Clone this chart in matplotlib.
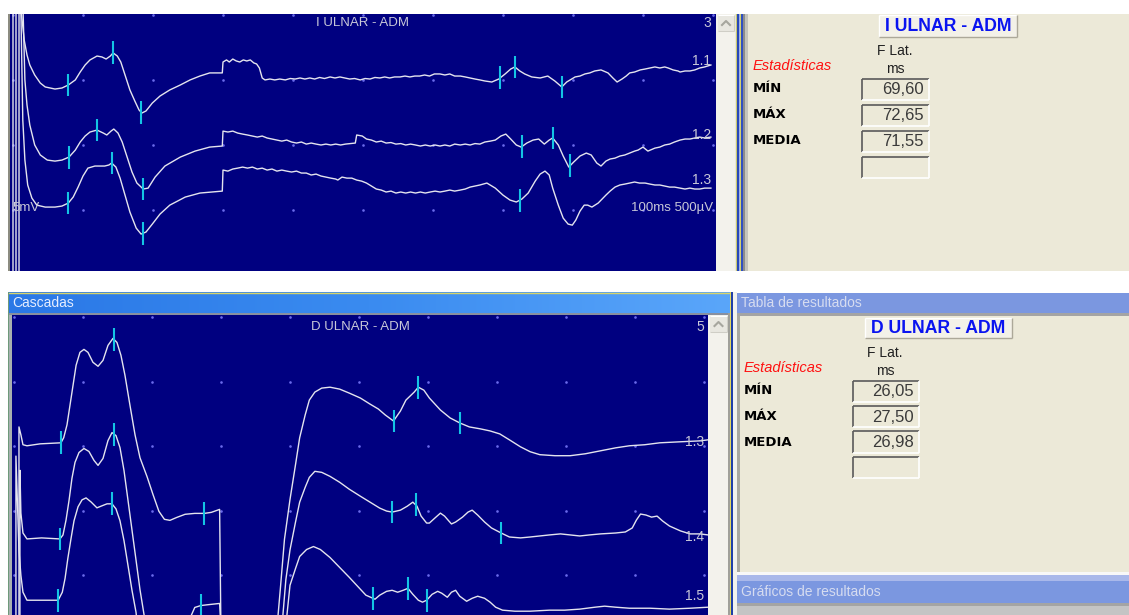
import numpy as np
import matplotlib
matplotlib.use("Agg")
import matplotlib.pyplot as plt
from matplotlib.patches import Rectangle
from matplotlib.colors import LinearSegmentedColormap

plt.rcParams['font.family'] = ['Liberation Sans', 'DejaVu Sans']

# ---------------------------------------------------------------- data
# I ULNAR - ADM : 10 ms/div, 500 uV/div, traces in (ms, uV) relative to own baseline
i_ulnar_names = ["1.1", "1.2", "1.3"]
i_ulnar_offsets_uv = [-485, -986, -1348]
i_ulnar_11 = [(0.43, -1600), (0.43, 700), (1.0, 600), (1.6, 293), (2.0, 177), (2.4, 100), (3.1, 23), (3.9, -39),
              (4.6, -69), (6.0, -85), (7.0, -77), (7.9, -54), (8.9, -15), (9.6, 46), (10.3, 100), (11.0, 139),
              (12.0, 169), (12.7, 162), (13.3, 146), (13.9, 169), (14.3, 193), (14.9, 169), (15.4, 123),
              (16.0, 23), (16.7, -92), (17.4, -177), (18.0, -246), (18.4, -270), (19.0, -254), (19.9, -193),
              (21.0, -139), (22.4, -92), (23.9, -54), (25.3, -15), (26.7, 15), (28.1, 39), (29.9, 39),
              (30.0, 123), (30.5, 139), (30.9, 123), (31.4, 146), (31.9, 131), (32.4, 123), (32.9, 139),
              (33.4, 131), (33.9, 139), (34.4, 116), (34.8, 108), (35.2, 77), (35.6, 0), (36.0, -15),
              (36.7, -8), (37.4, -15), (38.1, -8), (38.9, -15), (39.6, -4), (40.3, -8), (41.0, 0), (41.7, -8),
              (42.4, 0), (43.1, -8), (43.8, 4), (44.5, -4), (45.3, 8), (46.0, 0), (46.7, 8), (47.4, 0),
              (48.1, -8), (48.8, -4), (49.6, -15), (50.3, -4), (51.0, -8), (51.7, 4), (52.4, 0), (53.1, 8),
              (53.8, 0), (54.5, 8), (55.3, 8), (56.0, 15), (56.7, 8), (57.4, 15), (58.1, 15), (58.8, 23),
              (59.5, 15), (60.2, 31), (61.0, 31), (61.7, 23), (62.4, 31), (63.1, 15), (63.9, 15), (64.6, 8),
              (65.3, 0), (66.0, -8), (66.7, -15), (67.4, -23), (68.4, -31), (69.4, -8), (70.3, 31), (71.1, 69),
              (71.7, 85), (72.4, 54), (73.1, 31), (74.1, 8), (75.3, 0), (76.4, 15), (77.4, -23), (78.4, -69),
              (79.1, -31), (80.3, 8), (81.0, 15), (81.7, 31), (82.4, 39), (83.1, 54), (84.0, 62), (85.0, 39),
              (85.7, 0), (86.3, -31), (87.0, -8), (87.6, 15), (88.1, 39), (88.8, 46), (89.6, 62), (90.3, 69),
              (91.0, 77), (91.7, 85), (92.4, 77), (93.1, 85), (93.6, 77), (94.3, 62), (95.0, 54), (95.3, 46),
              (96.0, 54), (96.7, 54), (97.4, 62), (98.1, 77), (98.8, 85), (99.7, 100)]
i_ulnar_12 = [(0.0, -1600), (0.0, 1200), (1.4, 1101), (1.7, 485), (2.0, 293), (2.4, 139), (3.1, -15), (3.9, -92),
              (4.9, -131), (6.0, -139), (7.0, -131), (8.0, -108), (8.9, -54), (9.6, 8), (10.3, 54), (11.0, 85),
              (12.0, 100), (12.9, 77), (13.4, 62), (14.0, 92), (14.4, 108), (15.0, 77), (15.6, 8), (16.3, -108),
              (17.0, -223), (17.7, -308), (18.6, -354), (19.3, -347), (20.3, -262), (21.7, -177), (23.9, -108),
              (26.0, -62), (28.1, -31), (29.9, -23), (30.0, 92), (30.7, 85), (31.4, 92), (32.1, 77), (32.8, 69),
              (33.5, 62), (34.2, 54), (34.9, 46), (35.6, 54), (36.3, 39), (37.0, 31), (37.7, 23), (38.4, 15),
              (39.1, 23), (39.8, 8), (40.5, 0), (41.2, 8), (41.9, -8), (42.6, 0), (43.3, -8), (44.0, -15),
              (44.7, -8), (45.4, -15), (46.1, -8), (46.8, -15), (47.5, -8), (48.2, -4), (48.9, 0), (49.1, 62),
              (49.9, 54), (50.5, 31), (51.2, 23), (51.9, 8), (52.6, 15), (53.3, 0), (54.0, 4), (54.7, -8),
              (55.4, -4), (56.1, -15), (56.8, -8), (57.5, -15), (58.2, -23), (58.9, -15), (59.6, -23),
              (60.3, -15), (61.0, -23), (61.7, -15), (62.4, -23), (63.1, -8), (63.9, -15), (64.6, -8),
              (65.3, -15), (66.0, -4), (66.7, -8), (67.4, 8), (68.2, 15), (68.9, 23), (69.7, 54), (70.4, 69),
              (71.1, 31), (71.9, -15), (72.6, -31), (73.4, 0), (74.3, 23), (75.1, 31), (75.9, -8), (76.6, 23),
              (77.1, 39), (77.9, -15), (78.6, -100), (79.4, -185), (80.1, -146), (81.0, -100), (81.9, -77),
              (82.6, -92), (83.4, -154), (84.0, -177), (84.7, -139), (85.3, -123), (86.0, -116), (86.7, -100),
              (87.4, -92), (88.1, -77), (88.8, -62), (89.3, -54), (90.0, -31), (90.7, -62), (91.4, -46),
              (91.7, -39), (92.4, -31), (93.1, -15), (93.8, -8), (94.5, 8), (95.3, 23), (96.0, 31), (96.7, 31),
              (97.4, 39), (98.1, 46), (98.8, 39), (99.7, 46)]
i_ulnar_13 = [(0.86, -700), (0.86, 1500), (1.1, 1463), (1.4, 539), (1.7, 231), (2.1, 39), (2.7, -62), (3.4, -116),
              (4.6, -131), (6.0, -131), (7.0, -123), (7.9, -100), (8.6, -54), (9.3, 23), (10.0, 108), (10.7, 169),
              (11.7, 185), (13.1, 185), (13.7, 193), (14.1, 208), (14.7, 177), (15.3, 92), (16.0, -39),
              (16.7, -169), (17.6, -293), (18.3, -339), (19.0, -323), (19.9, -262), (21.0, -185), (22.4, -116),
              (24.6, -54), (26.7, -23), (29.9, -8), (30.0, 154), (30.7, 146), (31.4, 162), (32.1, 169),
              (32.8, 177), (33.5, 169), (34.2, 177), (34.9, 162), (35.6, 169), (36.3, 154), (37.0, 162),
              (37.7, 146), (38.4, 154), (39.1, 146), (39.8, 139), (40.5, 146), (41.2, 131), (41.9, 131),
              (42.6, 116), (43.3, 123), (44.0, 108), (44.7, 100), (45.4, 92), (46.1, 85), (46.4, 77), (47.0, 100),
              (47.7, 92), (48.4, 92), (49.1, 77), (49.8, 69), (50.5, 54), (51.2, 31), (51.9, 8), (52.6, 0),
              (53.3, -15), (54.0, -8), (54.7, -23), (55.4, -15), (56.1, -23), (56.8, -15), (57.5, -23),
              (58.2, -15), (58.9, -23), (59.6, -15), (60.3, -8), (61.0, -15), (61.7, -8), (62.4, 0), (63.1, -8),
              (63.9, 0), (64.6, 8), (65.3, 23), (66.0, 31), (66.7, 39), (67.7, 54), (68.9, 15), (70.0, -39),
              (71.0, -77), (71.9, -92), (72.7, -69), (73.6, -23), (74.6, 69), (75.3, 123), (76.0, 146),
              (76.6, 116), (77.1, 15), (77.9, -116), (78.6, -216), (79.3, -262), (79.9, -270), (80.4, -231),
              (81.0, -162), (81.6, -116), (82.1, -116), (82.7, -131), (83.6, -100), (84.7, -39), (85.3, -8),
              (86.0, 23), (86.7, 39), (87.4, 46), (88.1, 54), (88.8, 62), (89.5, 54), (90.3, 54), (91.0, 46),
              (91.7, 39), (92.4, 39), (93.1, 31), (93.8, 23), (94.5, 23), (95.3, 15), (96.0, 8), (96.7, 15),
              (97.4, 8), (98.1, 8), (98.8, 15), (99.7, 15)]
i_ulnar_marks_ms = [[7.9, 14.3, 18.3, 71.7, 78.4], [8.0, 12.0, 18.6, 77.1, 79.6], [7.9, 14.1, 18.6]]
i_ulnar_f_lat_ms = [69.60, 72.65, 72.40]

# D ULNAR - ADM : 5 ms/div
d_ulnar_names = ["1.3", "1.4", "1.5"]
d_ulnar_offsets_uv = [-975, -1720, -2195]
d_ulnar_13 = [(0.36, -1500), (0.36, 123), (0.5, 62), (0.65, -15), (0.94, -23), (1.9, -8), (3.4, 0), (3.6, 39),
              (3.84, 139), (4.06, 293), (4.28, 447), (4.5, 601), (4.78, 701), (5.07, 724), (5.36, 701),
              (5.72, 624), (6.09, 593), (6.45, 639), (6.81, 755), (7.17, 809), (7.46, 778), (7.75, 678),
              (8.04, 524), (8.4, 293), (8.77, 62), (9.13, -116), (9.64, -262), (10.07, -400), (10.5, -531),
              (10.9, -593), (11.3, -601), (11.8, -578), (12.4, -554), (13.1, -547), (13.8, -547), (14.3, -539),
              (14.9, -516), (15.0, -1500), (19.0, -1500), (19.3, -1132), (19.6, -747), (20.0, -439),
              (20.4, -169), (20.7, 39), (21.1, 216), (21.4, 331), (21.8, 393), (22.3, 424), (22.9, 431),
              (23.6, 416), (24.3, 385), (25.1, 347), (25.8, 300), (26.4, 262), (26.9, 216), (27.5, 169),
              (28.0, 246), (28.4, 331), (28.7, 362), (29.0, 393), (29.3, 431), (29.7, 408), (30.1, 347),
              (30.9, 254), (31.6, 193), (32.3, 154), (33.0, 123), (33.8, 108), (34.5, 92), (35.2, 69),
              (35.9, 23), (36.7, -31), (37.4, -69), (38.1, -92), (39.2, -100), (40.3, -100), (41.4, -85),
              (42.5, -62), (43.6, -39), (44.6, -23), (45.7, -15), (46.8, 0), (48.3, 8), (49.7, 15), (50.3, 23)]
d_ulnar_14 = [(0.43, -700), (0.43, 532), (0.5, 200), (0.65, 46), (0.94, 0), (2.0, 8), (3.33, 0), (3.55, 31),
              (3.77, 146), (3.99, 300), (4.2, 470), (4.42, 593), (4.71, 670), (5.07, 701), (5.43, 678),
              (5.8, 608), (6.09, 570), (6.45, 624), (6.81, 762), (7.1, 824), (7.39, 801), (7.68, 708),
              (7.97, 531), (8.26, 300), (8.55, 69), (8.84, -162), (9.13, -393), (9.42, -585), (9.64, -700),
              (12.4, -700), (13.1, -531), (13.55, -516), (14.2, -508), (14.9, -500), (15.0, -700), (19.4, -700),
              (19.7, -316), (20.0, -85), (20.4, 131), (20.7, 285), (21.1, 400), (21.4, 477), (21.8, 524),
              (22.3, 516), (22.9, 485), (23.6, 439), (24.3, 385), (25.1, 331), (25.8, 285), (26.5, 239),
              (27.0, 216), (27.4, 208), (28.0, 223), (28.5, 254), (28.9, 285), (29.2, 254), (29.5, 177),
              (29.9, 123), (30.1, 123), (30.5, 162), (30.9, 200), (31.2, 177), (31.7, 116), (32.0, 131),
              (32.5, 169), (32.9, 208), (33.2, 223), (33.6, 185), (34.1, 131), (34.6, 85), (35.3, 46),
              (35.9, 15), (36.7, 8), (37.4, 15), (38.1, 23), (38.8, 31), (39.6, 39), (40.3, 31), (41.0, 23),
              (41.7, 31), (42.5, 39), (43.6, 46), (44.3, 54), (44.8, 85), (45.1, 146), (45.4, 193), (45.8, 185),
              (46.2, 169), (46.6, 177), (47.0, 139), (47.5, 100), (48.3, 62), (49.0, 39), (49.7, 39), (50.3, 31)]
d_ulnar_15 = [(0.14, -300), (0.14, 1117), (0.36, 385), (0.5, 193), (0.65, 62), (0.94, 0), (1.9, 0), (3.2, 0),
              (3.5, 62), (3.7, 169), (3.9, 323), (4.13, 477), (4.35, 616), (4.64, 724), (4.93, 778), (5.22, 793),
              (5.58, 762), (6.01, 716), (6.38, 732), (6.74, 747), (7.1, 747), (7.39, 708), (7.68, 616),
              (7.97, 462), (8.26, 270), (8.55, 77), (8.84, -92), (9.06, -300), (19.6, -300), (20.0, 116),
              (20.4, 246), (20.7, 339), (21.2, 393), (21.7, 416), (22.2, 393), (22.9, 331), (23.6, 254),
              (24.3, 177), (24.9, 108), (25.5, 39), (26.16, 8), (26.5, 39), (27.0, 69), (27.4, 77), (27.8, 62),
              (28.2, 77), (28.55, 92), (28.9, 46), (29.3, 0), (29.6, -15), (29.9, 0), (30.3, 46), (30.7, 69),
              (31.0, 54), (31.4, 23), (31.7, 62), (32.0, 77), (32.3, 31), (32.8, -8), (33.2, 15), (33.6, 31),
              (34.1, 15), (34.5, -15), (34.9, -54), (35.4, -77), (36.3, -85), (37.4, -85), (38.8, -77),
              (39.9, -77), (41.0, -69), (42.1, -54), (42.8, -46), (43.6, -54), (44.6, -62), (46.1, -62),
              (47.5, -69), (49.0, -62), (50.3, -54)]
d_ulnar_marks_ms = [[3.4, 7.25, 13.8, 29.3, 32.3], [3.33, 7.25, 13.55, 29.1, 35.3], [3.2, 7.1, 28.55, 29.9]]
d_ulnar_f_lat_ms = [27.50, 27.39, 26.05]

stat_labels = ["MÍN", "MÁX", "MEDIA"]

# ---------------------------------------------------------------- style
NAVY = '#000080'
TRACE = '#E4E4EE'
CURSOR = '#14C4E4'
DOT = '#6A6AEA'
PANEL_TXT = '#C8C8D8'
BEIGE = '#ECE9D8'
W, H = 1129, 615

fig = plt.figure(figsize=(W / 100, H / 100), dpi=100)
fig.patch.set_facecolor('white')

ui = fig.add_axes([0, 0, 1, 1])
ui.set_axis_off()


def box(x0, y0, x1, y1, color, z=1):
    ui.add_patch(Rectangle((x0, y0), x1 - x0, y1 - y0, facecolor=color,
                           edgecolor='none', zorder=z, antialiased=False))


def hline(ax, x0, x1, y, color, lw=0.75, z=5):
    ax.plot([x0, x1], [y, y], color=color, lw=lw, zorder=z, solid_capstyle='butt')


def vline(ax, x, y0, y1, color, lw=0.75, z=5):
    ax.plot([x, x], [y0, y1], color=color, lw=lw, zorder=z, solid_capstyle='butt')


def scrollbar(x0, y0, x1, y1):
    box(x0, y0, x1, y1, '#F3F2EC')
    bx0, bx1, by0, by1 = x0 + 2, x1 - 1, y0 + 1, y0 + 17
    box(bx0, by0, bx1, by1, '#E8E7E0', z=2)
    hline(ui, bx0, bx1, by0, '#FFFFFF')
    hline(ui, bx0, bx1, by1, '#CFCEC6')
    vline(ui, bx1, by0, by1, '#CFCEC6')
    cx, cy = (bx0 + bx1) / 2, (by0 + by1) / 2
    ui.plot([cx - 4, cx, cx + 4], [cy + 2, cy - 2, cy + 2], color='#A6A69E', lw=1.5, zorder=6)


# ----- upper window
box(8, 14, 10, 271, '#8C8C80')
scrollbar(716, 14, 735, 271)
for xa, xb, c in [(735, 736, '#E8E8D8'), (736, 737, '#C8C870'), (737, 739, '#2848B8'), (739, 740, '#9CB0E8'),
                  (740, 741, '#D0D070'), (741, 743, '#3050C0'), (743, 745, '#8C8C8C'), (745, 748, '#C4C4BC')]:
    box(xa, 14, xb, 271, c)
box(748, 14, W, 271, BEIGE)

# ----- lower window
grad = LinearSegmentedColormap.from_list('bar', ['#2A78E6', '#3A8BF0', '#5AA6FA'])
ui.imshow(np.linspace(0, 1, 256)[None, :], extent=[8, 730, 313, 292], cmap=grad,
          aspect='auto', zorder=2, interpolation='bilinear')
hline(ui, 8, 730, 292.5, '#D8D46A', lw=1.0, z=3)
box(8, 292, 9, 615, '#6E9A7A', z=3)
box(9, 313, 12, 615, '#A8B0B0')
box(8, 313, 730, 315, '#8890A0')
scrollbar(708, 315, 728, 615)
for xa, xb, c in [(728, 730, '#A0A09A'), (730, 731, '#E0D860'), (731, 733, '#2040A8'), (733, 737, '#F2F2EE')]:
    box(xa, 292, xb, 615, c)
box(737, 293, W, 313, '#7B97E0')
box(737, 313, W, 316, '#A4A4A4')
box(737, 316, W, 572, BEIGE)
box(737, 316, 740, 572, '#A8A8A0')
box(737, 572, W, 575, '#F8F8F8')
box(737, 575, W, 581, '#A9B8EA')
box(737, 581, W, 603, '#7B97E0')
box(737, 603, W, 606, '#A4A4A4')
box(737, 606, W, 615, '#C4C4C4')

ui.set_xlim(0, W)
ui.set_ylim(H, 0)


# ---------------------------------------------------------------- trace panels
def trace_panel(x0, y0, x1, y1, xlim, ylim, xdiv, ydiv, traces, offsets, marks, f_lat):
    ax = fig.add_axes([x0 / W, 1 - y1 / H, (x1 - x0) / W, (y1 - y0) / H])
    ax.set_facecolor(NAVY)
    ax.set_xticks([])
    ax.set_yticks([])
    for s in ax.spines.values():
        s.set_visible(False)
    ax.set_xlim(*xlim)
    ax.set_ylim(*ylim)
    gx, gy = np.meshgrid(xdiv, ydiv)
    ax.plot(gx.ravel(), gy.ravel(), 'o', ms=1.9, mec='none', mfc=DOT, zorder=1)
    for pts, off, mk, fl in zip(traces, offsets, marks, f_lat):
        t = np.array(pts, dtype=float)
        ms, uv = t[:, 0], t[:, 1] + off
        ax.plot(ms, uv, color=TRACE, lw=1.0, zorder=3, solid_joinstyle='round')
        cur = np.array(sorted(mk + [fl]))
        cy = np.interp(cur, ms, uv)
        ax.vlines(cur, cy - 88, cy + 88, color=CURSOR, lw=1.5, zorder=4)
    return ax


trace_panel(10, 14, 716, 271, (-3 / 7, 703 / 7), (-256 * 7.7, 7.7),
            np.arange(0, 101, 10), np.arange(0, -2000, -500),
            [i_ulnar_11, i_ulnar_12, i_ulnar_13], i_ulnar_offsets_uv, i_ulnar_marks_ms, i_ulnar_f_lat_ms)
trace_panel(12, 315, 708, 615, (-2 / 13.8, 694 / 13.8), (-298 * 7.75, 2 * 7.75),
            np.arange(0, 51, 5), np.arange(0, -2400, -500),
            [d_ulnar_13, d_ulnar_14, d_ulnar_15], d_ulnar_offsets_uv, d_ulnar_marks_ms, d_ulnar_f_lat_ms)

# ---------------------------------------------------------------- text overlay
ov = fig.add_axes([0, 0, 1, 1])
ov.set_axis_off()
ov.set_xlim(0, W)
ov.set_ylim(H, 0)


def txt(x, y, s, **kw):
    kw.setdefault('va', 'center')
    kw.setdefault('ha', 'left')
    ov.text(x, y, s, **kw)


# labels inside the trace panels
txt(362, 23, "I ULNAR - ADM", ha='center', color=PANEL_TXT, fontsize=9.5)
txt(711, 23, "3", ha='right', color=PANEL_TXT, fontsize=10)
for name, y in zip(i_ulnar_names, [61, 135, 180]):
    txt(711, y, name, ha='right', color=PANEL_TXT, fontsize=10)
txt(713, 208, "100ms 500µV", ha='right', color=PANEL_TXT, fontsize=9.5)
txt(12, 208, "5mV", color=PANEL_TXT, fontsize=9.5)

txt(360, 327, "D ULNAR - ADM", ha='center', color=PANEL_TXT, fontsize=9.5)
txt(704, 327, "5", ha='right', color=PANEL_TXT, fontsize=10)
for name, y in zip(d_ulnar_names, [442, 537, 596]):
    txt(704, y, name, ha='right', color=PANEL_TXT, fontsize=10)

# window captions
txt(12, 303, "Cascadas", color='#E6EEFF', fontsize=10)
txt(741, 303, "Tabla de resultados", color='#D6DCF0', fontsize=10)
txt(741, 592, "Gráficos de resultados", color='#D6DCF0', fontsize=10)


def results(title, title_box, col_x, head_y, stat_x, stat_ys, est_y, box_x, box_rows, f_lat):
    bx0, by0, bx1, by1 = title_box
    ov.add_patch(Rectangle((bx0, by0), bx1 - bx0, by1 - by0, facecolor='#F3F1E8', edgecolor='none', zorder=1))
    hline(ov, bx0, bx1, by0, '#FFFFFF', lw=1.0)
    vline(ov, bx0, by0, by1, '#FFFFFF', lw=1.0)
    hline(ov, bx0, bx1, by1, '#ACA899', lw=1.0)
    vline(ov, bx1, by0, by1, '#ACA899', lw=1.0)
    txt((bx0 + bx1) / 2, (by0 + by1) / 2 + 0.5, title, ha='center', color='#0A14F0',
        fontsize=12.7, fontweight='bold')
    txt(col_x, head_y, "F Lat.", ha='center', color='#202020', fontsize=10)
    txt(col_x, head_y + 18, "ms", ha='center', color='#202020', fontsize=10)
    txt(stat_x, est_y, "Estadísticas", color='#FF1010', fontsize=10.5, style='italic')
    vals = [min(f_lat), max(f_lat), float(np.mean(f_lat))]
    for lab, y in zip(stat_labels, stat_ys):
        txt(stat_x, y, lab, color='#000000', fontsize=9.5, fontweight='bold', family='DejaVu Sans')
    x0, x1 = box_x
    for i, (y0, y1) in enumerate(box_rows):
        hline(ov, x0, x1, y0, '#5A5A5A', lw=1.2)
        vline(ov, x0, y0, y1, '#5A5A5A', lw=1.2)
        hline(ov, x0, x1, y1, '#FFFFFF', lw=1.2)
        vline(ov, x1, y0, y1, '#FFFFFF', lw=1.2)
        if i < len(vals):
            s = f"{vals[i]:.2f}".replace('.', ',')
            txt(x1 - 5, (y0 + y1) / 2 + 0.5, s, ha='right', color='#3A3A3A', fontsize=12)


results("I ULNAR - ADM", (879, 15, 1017, 37), 895, 51, 753, [89, 115, 141], 66,
        (862, 929), [(79, 100), (105, 126), (131, 152), (157, 178)], i_ulnar_f_lat_ms)
results("D ULNAR - ADM", (865, 318, 1012, 338), 885, 353, 744, [391, 417, 442], 368,
        (853, 919), [(381, 402), (406, 427), (431, 453), (457, 478)], d_ulnar_f_lat_ms)

fig.savefig("out.png", dpi=100, facecolor='white')
